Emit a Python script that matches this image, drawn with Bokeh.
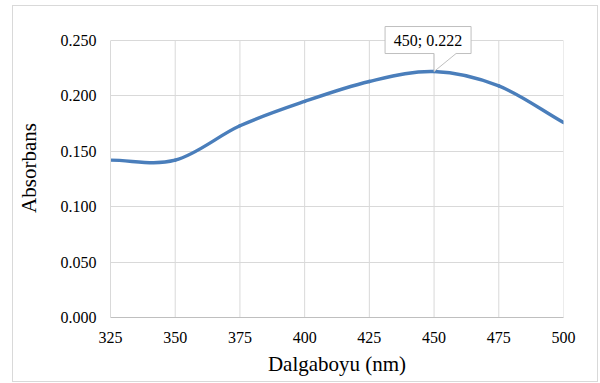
from bokeh.plotting import figure
from bokeh.models import Range1d, NumeralTickFormatter, FixedTicker, ColumnDataSource
from bokeh.core.properties import value
from bokeh.embed import file_html
from bokeh.resources import INLINE

# ---- data ----
wavelength = [325, 350, 375, 400, 425, 450, 475, 500]
absorbance = [0.142, 0.142, 0.173, 0.195, 0.213, 0.222, 0.209, 0.176]
x_ticks = [325, 350, 375, 400, 425, 450, 475, 500]
y_ticks = [0.0, 0.05, 0.10, 0.15, 0.20, 0.25]
peak_x = 450
peak_y = 0.222
peak_text = "450; 0.222"

FONT = "Liberation Serif"
W, H = 584, 375
FW = 453            # plot area width (px)
PH = 277            # plot area height for 0..0.25 (px)
TOPPAD = 22         # extra room above 0.25 for the callout (px)
ML, MT = 97, 12
MR = W - ML - FW
FH = PH + TOPPAD
MB = H - MT - FH

x0, x1 = 325, 500
y0, y1 = 0.0, 0.25
y_top = y1 + TOPPAD * (y1 - y0) / PH

p = figure(width=W, height=H, frame_width=FW, frame_height=FH,
           output_backend="svg", toolbar_location=None,
           x_range=Range1d(x0, x1), y_range=Range1d(y0, y_top),
           min_border_left=ML, min_border_right=MR, min_border_top=MT,
           min_border_bottom=MB)
p.outline_line_color = None
p.background_fill_color = "white"
p.border_fill_color = "white"
p.styles = {"margin-left": "13px", "margin-top": "6px",
            "box-shadow": "0 0 0 1px #d9d9d9"}

# grid: horizontal lines from the grid, vertical lines limited to 0..0.25
p.xgrid.visible = False
p.ygrid.ticker = FixedTicker(ticks=y_ticks)
p.ygrid.grid_line_color = "#d9d9d9"
p.ygrid.grid_line_width = 1
p.segment(x0=x_ticks[1:], y0=[y0] * (len(x_ticks) - 1),
          x1=x_ticks[1:], y1=[y1] * (len(x_ticks) - 1),
          line_color="#d9d9d9", line_width=1, level="underlay")

# axes
p.xaxis.ticker = FixedTicker(ticks=x_ticks)
p.yaxis.ticker = FixedTicker(ticks=y_ticks)
p.yaxis.formatter = NumeralTickFormatter(format="0.000")
p.yaxis.bounds = (y0, y1)
for ax in (p.xaxis, p.yaxis):
    ax.major_tick_line_color = None
    ax.minor_tick_line_color = None
    ax.major_tick_out = 0
    ax.major_tick_in = 0
    ax.minor_tick_out = 0
    ax.minor_tick_in = 0
    ax.major_label_text_font = FONT
    ax.major_label_text_font_size = "16px"
    ax.major_label_text_color = "black"
    ax.axis_label_text_font = FONT
    ax.axis_label_text_font_size = "21px"
    ax.axis_label_text_font_style = "normal"
    ax.axis_label_text_color = "black"
p.xaxis.axis_line_color = "#bfbfbf"
p.yaxis.axis_line_color = "#d9d9d9"
p.xaxis.major_label_standoff = 14
p.yaxis.major_label_standoff = 14
p.xaxis.axis_label = "Dalgaboyu (nm)"
p.yaxis.axis_label = "Absorbans"
p.xaxis.axis_label_standoff = 6
p.yaxis.axis_label_standoff = 17

# smooth curve (Bezier segments, Excel-like smoothing)
n = len(wavelength)
bx0, by0, bx1, by1, cx0, cy0, cx1, cy1 = [], [], [], [], [], [], [], []
for i in range(n - 1):
    xa, ya = wavelength[i], absorbance[i]
    xb, yb = wavelength[i + 1], absorbance[i + 1]
    if i == 0:
        ta = ((xb - xa) / 3.0, (yb - ya) / 3.0)
    else:
        ta = ((xb - wavelength[i - 1]) / 6.0, (yb - absorbance[i - 1]) / 6.0)
    if i + 1 == n - 1:
        tb = ((xb - xa) / 3.0, (yb - ya) / 3.0)
    else:
        tb = ((wavelength[i + 2] - xa) / 6.0, (absorbance[i + 2] - ya) / 6.0)
    bx0.append(xa); by0.append(ya); bx1.append(xb); by1.append(yb)
    cx0.append(xa + ta[0]); cy0.append(ya + ta[1])
    cx1.append(xb - tb[0]); cy1.append(yb - tb[1])

src = ColumnDataSource(dict(x0=bx0, y0=by0, x1=bx1, y1=by1,
                            cx0=cx0, cy0=cy0, cx1=cx1, cy1=cy1))
p.bezier(x0="x0", y0="y0", x1="x1", y1="y1", cx0="cx0", cy0="cy0",
         cx1="cx1", cy1="cy1", source=src, line_color="#4a7ebb",
         line_width=3.4, line_cap="round")

# callout for the peak (box with pointer), offsets in pixels
sx = (x1 - x0) / FW
sy = (y1 - y0) / PH
dxp = [-49, 37, 37, 22, 0, 0, -49]
dyp = [45, 45, 18, 18, 0, 18, 18]
p.patch([peak_x + d * sx for d in dxp], [peak_y + d * sy for d in dyp],
        fill_color="white", line_color="#bfbfbf", line_width=1)
p.text(x=[peak_x - 6 * sx], y=[peak_y + 31.5 * sy], text=[peak_text],
       text_font=value(FONT), text_font_size="16px", text_color="black",
       text_align="center", text_baseline="middle")

open("out.html", "w").write(file_html(p, INLINE))
